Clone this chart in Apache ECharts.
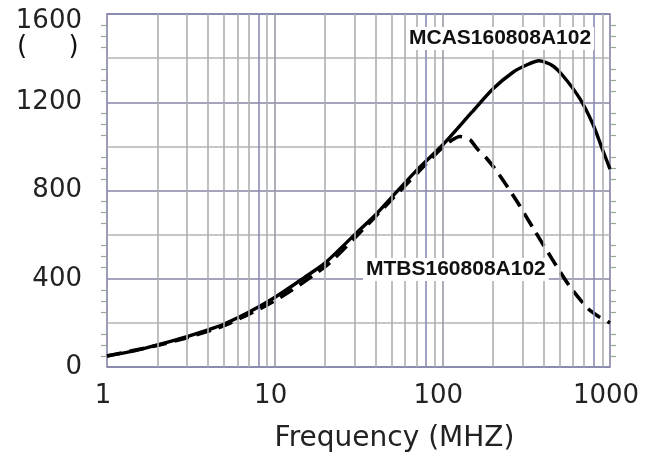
<!DOCTYPE html>
<html>
<head>
<meta charset="utf-8">
<script src="https://cdn.jsdelivr.net/npm/echarts@6/dist/echarts.min.js"></script>
<style>
  html, body { margin: 0; padding: 0; background: #fff; }
  #main { width: 648px; height: 458px; }
</style>
</head>
<body>
<div id="main"></div>
<script>
// impedance curves (MHz, ohm)
const mcasFreq = [1, 1.5, 2, 3, 4, 5, 7, 10, 15, 20, 30, 40, 50, 70, 100, 150, 200, 264, 320, 377, 450, 524, 661, 791, 900, 1000]
const mcasZ = [50, 75, 100, 138, 168, 195, 248, 315, 405, 472, 600, 690, 770, 890, 1005, 1155, 1260, 1336, 1370, 1388, 1368, 1320, 1216, 1100, 988, 897]

const mtbsFreq = [1, 2, 3, 5, 10, 20, 30, 50, 70, 100, 115, 127, 146, 161, 184, 217, 279, 354, 451, 576, 738, 850, 1000]
const mtbsZ = [50, 98, 133, 188, 300, 455, 585, 760, 875, 995, 1030, 1045, 1030, 990, 945, 875, 750, 620, 490, 365, 265, 230, 200]

// vertical grid lines of the log paper
const gridFreqs = [2, 3, 4, 5, 6, 7, 8, 9, 10, 20, 30, 40, 50, 60, 70, 80, 90, 100, 200, 300, 400, 500, 600, 700, 800, 900]

const xTicks = [1, 10, 100, 1000]
const yTicks = [0, 400, 800, 1200, 1600]

var myChart = echarts.init(document.getElementById('main'))

const pairs = (xs, ys) => xs.map((x, i) => [x, ys[i]])

myChart.setOption({
  animation: false,
  textStyle: { fontFamily: 'DejaVu Sans' },
  grid: {
    left: 107, right: 38, top: 14, bottom: 85,
    show: true,
    borderColor: '#7c7ca4',
    borderWidth: 1.5
  },
  xAxis: {
    type: 'log',
    logBase: 10,
    min: 1,
    max: 1000,
    name: 'Frequency (MHZ)',
    nameLocation: 'middle',
    nameGap: 58,
    nameTextStyle: { fontSize: 28, color: '#222', padding: [0, 0, 0, 72] },
    axisLine: { show: false },
    axisTick: { show: false },
    splitLine: { show: false },
    axisLabel: {
      fontSize: 26,
      color: '#222',
      margin: 16,
      padding: [0, 8, 0, 0],
      formatter: v => xTicks.includes(v) ? String(v) : ''
    }
  },
  yAxis: [{
    type: 'value',
    min: 0,
    max: 1600,
    interval: 200,
    axisLine: { show: false },
    axisTick: { show: false },
    minorTick: { show: true, splitNumber: 4, length: 6, lineStyle: { color: '#98a898', width: 1.2 } },
    axisLabel: {
      fontSize: 26,
      color: '#222',
      margin: 25,
      formatter: v => v === 1600 ? '{top|1600}' : (yTicks.includes(v) ? String(v) : ''),
      rich: { top: { fontSize: 26, color: '#222', padding: [14, 0, 0, 0] } }
    },
    splitLine: { lineStyle: { color: ['#8686aa', '#b4b4b4'], width: 1.5 } }
  }, {
    type: 'value',
    position: 'right',
    min: 0,
    max: 1600,
    interval: 200,
    axisLine: { show: false },
    axisTick: { show: false },
    axisLabel: { show: false },
    splitLine: { show: false },
    minorTick: { show: true, splitNumber: 4, length: 6, lineStyle: { color: '#98a898', width: 1.2 } }
  }],
  series: [
    {
      // carries the vertical grid lines only
      type: 'line',
      z: 1,
      silent: true,
      data: pairs(mcasFreq, mcasZ),
      showSymbol: false,
      lineStyle: { opacity: 0 },
      markLine: {
        silent: true,
        symbol: 'none',
        label: { show: false },
        animation: false,
        data: gridFreqs.map(f => ({
          xAxis: f,
          lineStyle: {
            type: 'solid',
            width: 1.6,
            color: String(f)[0] === '8' ? '#8c8cb4' : (String(f)[0] === '1' ? '#9a9aa8' : '#acb0ac')
          }
        }))
      }
    },
    {
      name: 'MTBS160808A102',
      type: 'line',
      z: 3,
      smooth: 0.25,
      showSymbol: false,
      data: pairs(mtbsFreq, mtbsZ),
      lineStyle: { color: '#000', width: 3.6, type: [15, 8] }
    },
    {
      name: 'MCAS160808A102',
      type: 'line',
      z: 4,
      smooth: 0.25,
      showSymbol: false,
      data: pairs(mcasFreq, mcasZ),
      lineStyle: { color: '#000', width: 3.4 }
    }
  ],
  graphic: [
    {
      type: 'text',
      left: 17,
      top: 34,
      z: 10,
      style: { text: '(     )', font: '26px "DejaVu Sans"', fill: '#111' }
    },
    {
      type: 'text',
      left: 406,
      top: 27,
      z: 10,
      style: {
        text: 'MCAS160808A102',
        font: 'bold 21px "Liberation Sans"',
        fill: '#111',
        backgroundColor: '#fff',
        padding: [1, 3, 1, 3]
      }
    },
    {
      type: 'text',
      left: 363,
      top: 258,
      z: 10,
      style: {
        text: 'MTBS160808A102',
        font: 'bold 21px "Liberation Sans"',
        fill: '#111',
        backgroundColor: '#fff',
        padding: [1, 3, 1, 3]
      }
    }
  ]
})
</script>
</body>
</html>
